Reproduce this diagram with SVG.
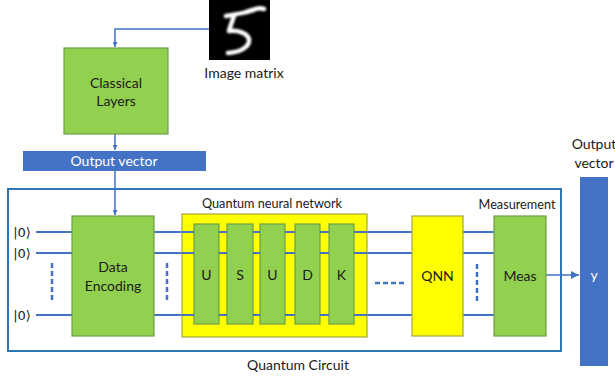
<svg xmlns="http://www.w3.org/2000/svg" width="615" height="381" viewBox="0 0 615 381">
<defs>
<marker id="ah" viewBox="0 0 10 10" refX="10" refY="5" markerWidth="5" markerHeight="5" orient="auto" markerUnits="userSpaceOnUse">
<path d="M0,0 L10,5 L0,10 z" fill="#4472C4"/>
</marker>
<marker id="ah2" viewBox="0 0 10 10" refX="10" refY="5" markerWidth="8" markerHeight="8" orient="auto" markerUnits="userSpaceOnUse">
<path d="M0,0 L10,5 L0,10 z" fill="#4472C4"/>
</marker>
<filter id="bl"><feGaussianBlur stdDeviation="0.8"/></filter>
</defs>
<style>
text{font-family:Lato,"Open Sans","Liberation Sans",sans-serif;text-anchor:middle;fill:#1a1a1a}
.g{fill:#92D050;stroke:#6E9E45;stroke-width:1.2}
.y{fill:#FFFF00;stroke:#A6A640;stroke-width:1.2}
.b{fill:#4472C4}
.q{stroke:#4472C4;stroke-width:2;fill:none}
.d{stroke:#4472C4;stroke-width:2.5;fill:none;stroke-dasharray:5,3}
.c{stroke:#4472C4;stroke-width:1.5;fill:none}
.t{font-size:14px}
.s{font-size:12.7px}
.k{font-family:"DejaVu Sans",sans-serif;font-size:13px}
</style>
<rect width="615" height="381" fill="#fff"/>

<g id="circuit-frame">
<rect x="8" y="189" width="553" height="162" fill="none" stroke="#2E75B6" stroke-width="2"/>
<text x="298" y="370" class="t">Quantum Circuit</text>
</g>

<g id="connectors">
<path class="c" d="M209,29 H115 V47" marker-end="url(#ah)"/>
<path class="c" d="M115,134 V150" marker-end="url(#ah)"/>
<path class="c" d="M115,171 V215" marker-end="url(#ah)"/>
<path class="q" d="M36,232 H494 M36,253 H494 M36,315 H494"/>
<path class="d" d="M52,263 V300 M167,263 V300 M477,264 V302"/>
<path class="d" d="M375,283 H404"/>
<path class="c" d="M546,275 H579" stroke-width="2" marker-end="url(#ah2)"/>
</g>

<g id="image-matrix">
<rect x="209" y="0" width="61" height="60" fill="#000"/>
<path d="M226,16 C236,14 246,13 254,10 M246,12 C256,8 262,8 264,9 M234,16 C232,22 230,27 229,31 C238,30 247,33 249,39 C250,46 242,52 228,53" fill="none" stroke="#fff" stroke-width="4.5" stroke-linecap="round" stroke-linejoin="round" filter="url(#bl)"/>
<text x="244" y="78" class="t">Image matrix</text>
</g>

<g id="classical-layers">
<rect x="64" y="48" width="104" height="86" class="g"/>
<text x="116" y="88" class="t">Classical</text>
<text x="116" y="106" class="t">Layers</text>
</g>

<g id="output-vector-1">
<rect x="23" y="151" width="183" height="20" class="b"/>
<text x="114" y="166" class="t" style="fill:#fff">Output vector</text>
</g>

<g id="qubits">
<text x="22" y="237" class="k">|0⟩</text>
<text x="22" y="258" class="k">|0⟩</text>
<text x="22" y="320" class="k">|0⟩</text>
</g>

<g id="data-encoding">
<rect x="72" y="216" width="82" height="120" class="g"/>
<text x="113" y="272" class="t">Data</text>
<text x="113" y="291" class="t">Encoding</text>
</g>

<g id="quantum-neural-network">
<text x="272" y="208" class="s">Quantum neural network</text>
<rect x="182" y="214" width="185" height="123" class="y"/>
<rect x="194" y="224" width="25" height="100" class="g"/>
<rect x="227" y="224" width="26" height="100" class="g"/>
<rect x="260" y="224" width="25" height="100" class="g"/>
<rect x="295" y="224" width="25" height="100" class="g"/>
<rect x="329" y="224" width="25" height="100" class="g"/>
<path class="q" d="M182,232 H194 M219,232 H227 M253,232 H260 M285,232 H295 M320,232 H329 M354,232 H367 M182,253 H194 M219,253 H227 M253,253 H260 M285,253 H295 M320,253 H329 M354,253 H367 M182,315 H194 M219,315 H227 M253,315 H260 M285,315 H295 M320,315 H329 M354,315 H367"/>
<text x="206.5" y="280" class="t">U</text>
<text x="240" y="280" class="t">S</text>
<text x="272.5" y="280" class="t">U</text>
<text x="307.5" y="280" class="t">D</text>
<text x="341.5" y="280" class="t">K</text>
</g>

<g id="qnn">
<rect x="412" y="216" width="51" height="120" class="y"/>
<text x="437.5" y="281" class="t">QNN</text>
</g>

<g id="measurement">
<text x="517" y="209" class="s">Measurement</text>
<rect x="494" y="216" width="52" height="120" class="g"/>
<text x="520" y="281" class="t">Meas</text>
</g>

<g id="output-vector-2">
<text x="594" y="149" class="t">Output</text>
<text x="594" y="168" class="t">vector</text>
<rect x="580" y="177" width="28" height="189" class="b"/>
<text x="594" y="280" class="t" style="fill:#fff">y</text>
</g>
</svg>
